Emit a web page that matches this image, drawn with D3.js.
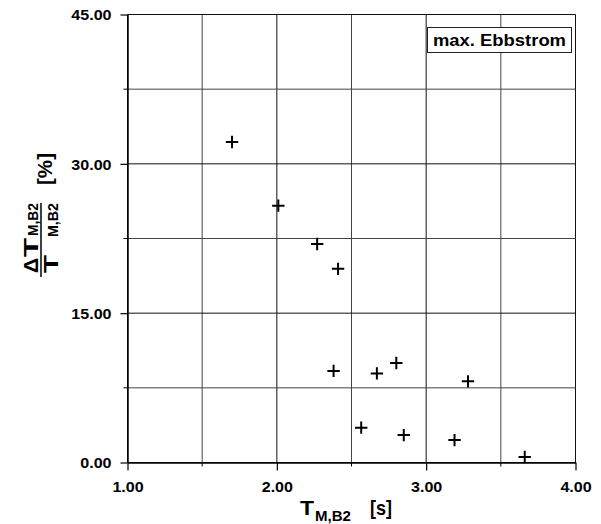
<!DOCTYPE html>
<html>
<head>
<meta charset="utf-8">
<script src="https://cdn.jsdelivr.net/npm/d3@7"></script>
<style>
  body { margin: 0; background: #fff; }
  text { font-family: "Liberation Sans", Arial, sans-serif; font-weight: bold; fill: #000; }
</style>
</head>
<body>
<div id="chart"></div>
<script>
// measured points (T_M,B2 in s, relative deviation in %)
var tValues = [1.70, 2.01, 2.27, 2.41, 2.38, 2.67, 2.80, 3.28, 2.565, 2.85, 3.19, 3.66];
var devValues = [32.2, 25.8, 21.95, 19.45, 9.2, 8.95, 10.0, 8.15, 3.5, 2.75, 2.25, 0.55];

var xTicks = [1.0, 2.0, 3.0, 4.0];
var xMinor = [1.5, 2.5, 3.5];
var yTicks = [0, 15, 30, 45];
var yMinor = [7.5, 22.5, 37.5];
var legendLabel = "max. Ebbstrom";

var width = 601, height = 524;
var margin = { top: 14.5, right: 25.5, bottom: 61.5, left: 127.5 };

var svg = d3.select("#chart")
  .append("svg")
  .attr("width", width)
  .attr("height", height);

var x = d3.scaleLinear()
  .domain([1, 4])
  .range([margin.left, width - margin.right]);

var y = d3.scaleLinear()
  .domain([0, 45])
  .range([height - margin.bottom, margin.top]);

// grid
var grid = svg.append("g");
grid.selectAll(".vgrid")
  .data(xTicks.concat(xMinor))
  .enter().append("line")
  .attr("x1", function(d) { return x(d); })
  .attr("x2", function(d) { return x(d); })
  .attr("y1", y(0))
  .attr("y2", y(45))
  .attr("stroke", function(d) { return xTicks.indexOf(d) >= 0 ? "#111" : "#444"; })
  .attr("stroke-width", 1);

grid.selectAll(".hgrid")
  .data(yTicks.concat(yMinor))
  .enter().append("line")
  .attr("x1", x(1))
  .attr("x2", x(4))
  .attr("y1", function(d) { return y(d); })
  .attr("y2", function(d) { return y(d); })
  .attr("stroke", function(d) { return yTicks.indexOf(d) >= 0 ? "#111" : "#444"; })
  .attr("stroke-width", 1);

// axes
var xAxis = svg.append("g")
  .attr("transform", "translate(0," + y(0) + ")")
  .call(d3.axisBottom(x).tickValues(xTicks).tickFormat(d3.format(".2f"))
    .tickSize(8).tickSizeOuter(0).tickPadding(11));

var yAxis = svg.append("g")
  .attr("transform", "translate(" + x(1) + ",0)")
  .call(d3.axisLeft(y).tickValues(yTicks).tickFormat(d3.format(".2f"))
    .tickSize(7).tickSizeOuter(0).tickPadding(9));

[xAxis, yAxis].forEach(function(a) {
  a.select(".domain").attr("stroke", "#000").attr("stroke-width", 1.5);
  a.selectAll(".tick line").attr("stroke", "#000").attr("stroke-width", 1.2);
  a.selectAll(".tick text")
    .attr("font-family", "Liberation Sans, Arial, sans-serif")
    .attr("font-weight", "bold")
    .attr("font-size", 15)
    .attr("fill", "#000")
    .attr("textLength", function() { return this.getComputedTextLength() * 1.07; })
    .attr("lengthAdjust", "spacingAndGlyphs");
});
yAxis.selectAll(".tick text").attr("dy", "0.36em");

// minor ticks
svg.selectAll(".xminor")
  .data(xMinor)
  .enter().append("line")
  .attr("x1", function(d) { return x(d); })
  .attr("x2", function(d) { return x(d); })
  .attr("y1", y(0))
  .attr("y2", y(0) + 4)
  .attr("stroke", "#000");

svg.selectAll(".yminor")
  .data(yMinor)
  .enter().append("line")
  .attr("x1", x(1) - 4)
  .attr("x2", x(1))
  .attr("y1", function(d) { return y(d); })
  .attr("y2", function(d) { return y(d); })
  .attr("stroke", "#000");

// plus markers
var pts = tValues.map(function(t, i) { return { t: t, v: devValues[i] }; });
svg.append("g")
  .selectAll("path")
  .data(pts)
  .enter().append("path")
  .attr("d", function(d) {
    var cx = x(d.t), cy = y(d.v), s = 6.2;
    return "M" + (cx - s) + "," + cy + "H" + (cx + s) + "M" + cx + "," + (cy - s) + "V" + (cy + s);
  })
  .attr("stroke", "#000")
  .attr("stroke-width", 2)
  .attr("fill", "none");

// legend box
svg.append("rect")
  .attr("x", 427.5)
  .attr("y", 27.5)
  .attr("width", 144)
  .attr("height", 25)
  .attr("fill", "#fff")
  .attr("stroke", "#222")
  .attr("stroke-width", 1);
svg.append("text")
  .attr("x", 433)
  .attr("y", 45.5)
  .attr("font-size", 16)
  .attr("textLength", 133)
  .attr("lengthAdjust", "spacingAndGlyphs")
  .text(legendLabel);

// x axis title
svg.append("text")
  .attr("x", 300).attr("y", 515)
  .attr("font-size", 21)
  .attr("textLength", 14).attr("lengthAdjust", "spacingAndGlyphs")
  .text("T");
svg.append("text")
  .attr("x", 315).attr("y", 521)
  .attr("font-size", 14)
  .attr("textLength", 36).attr("lengthAdjust", "spacingAndGlyphs")
  .text("M,B2");
svg.append("text")
  .attr("x", 370).attr("y", 515)
  .attr("font-size", 21)
  .attr("textLength", 22).attr("lengthAdjust", "spacingAndGlyphs")
  .text("[s]");

// y axis title (fraction), rotated
var yt = svg.append("g").attr("transform", "translate(41,240) rotate(-90)");
function part(txt, lx, ly, size, len, weight, family) {
  return yt.append("text")
    .attr("x", lx).attr("y", ly)
    .attr("font-size", size)
    .attr("font-weight", weight || "bold")
    .attr("font-family", family || null)
    .attr("textLength", len).attr("lengthAdjust", "spacingAndGlyphs")
    .text(txt);
}
part("\u0394", -33, -3, 20, 15, "normal", "DejaVu Sans, sans-serif");
part("T", -17, -3, 20, 19);
part("M,B2", 4, -3, 14, 33);
yt.append("line")
  .attr("x1", -37).attr("x2", 37)
  .attr("y1", 0).attr("y2", 0)
  .attr("stroke", "#000").attr("stroke-width", 1.5);
part("T", -33, 17.3, 20, 18);
part("M,B2", 3, 17.3, 14, 34);
part("[%]", 55, 11.3, 21, 32);
</script>
</body>
</html>
